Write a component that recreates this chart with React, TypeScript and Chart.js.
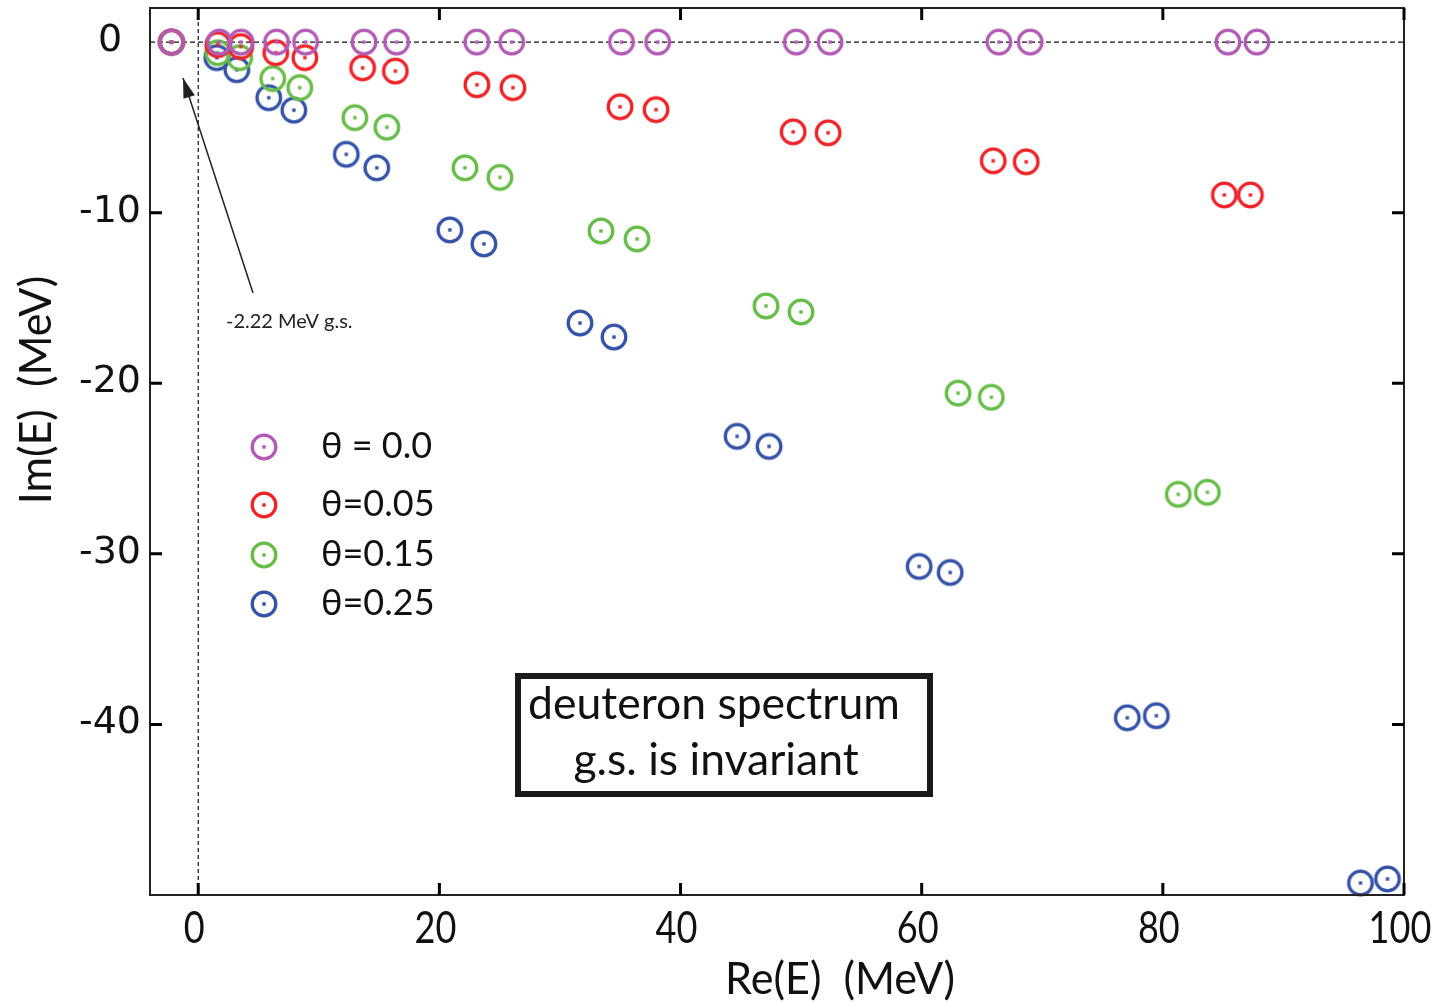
import { useEffect, useRef } from "react";
import { Chart, registerables } from "chart.js";

Chart.register(...registerables);

// ---------- data ----------
const seriesLabels = ["θ = 0.0", "θ=0.05", "θ=0.15", "θ=0.25"];
const seriesColors = ["#b35ab6", "#ee2428", "#66bd47", "#3452a8"];

const re00 = [-2.22, 1.75, 3.55, 6.5, 8.9, 13.75, 16.45, 23.1, 26.0, 35.1, 38.1, 49.6, 52.4, 66.4, 69.0, 85.4, 87.8];
const im00 = [0, 0, 0, 0, 0, 0, 0, 0, 0, 0, 0, 0, 0, 0, 0, 0, 0];

const re05 = [-2.22, 1.62, 3.53, 6.43, 8.84, 13.63, 16.35, 23.11, 26.1, 34.98, 37.97, 49.34, 52.24, 65.93, 68.67, 85.1, 87.26];
const im05 = [0, -0.15, -0.26, -0.62, -0.91, -1.51, -1.7, -2.5, -2.67, -3.79, -3.96, -5.26, -5.32, -6.96, -7.02, -8.96, -8.96];

const re15 = [-2.22, 1.62, 3.44, 6.18, 8.42, 12.99, 15.64, 22.12, 25.02, 33.4, 36.39, 47.09, 49.99, 63.02, 65.77, 81.28, 83.69];
const im15 = [0, -0.62, -0.91, -2.14, -2.67, -4.43, -4.99, -7.37, -7.93, -11.07, -11.54, -15.47, -15.82, -20.58, -20.82, -26.51, -26.39];

const re25 = [-2.22, 1.54, 3.2, 5.85, 7.93, 12.28, 14.81, 20.87, 23.69, 31.66, 34.48, 44.69, 47.34, 59.79, 62.36, 77.05, 79.46, 96.39, 98.63];
const im25 = [0, -0.91, -1.62, -3.26, -3.99, -6.58, -7.37, -11.01, -11.83, -16.47, -17.29, -23.11, -23.7, -30.74, -31.09, -39.61, -39.49, -49.3, -49.06];

const xTickValues = [0, 20, 40, 60, 80, 100];
const yTickValues = [0, -10, -20, -30, -40];
const xMin = -4;
const xMax = 100;
const yMin = -50;
const yMax = 2;

const xTitle = "Re(E)  (MeV)";
const yTitle = "Im(E)  (MeV)";
const boxLines = ["deuteron spectrum", "g.s. is invariant"];
const arrowLabel = "-2.22 MeV g.s.";

// ---------- helpers ----------
function makeMarker(color: string): HTMLCanvasElement {
  const c = document.createElement("canvas");
  c.width = 32;
  c.height = 32;
  const g = c.getContext("2d")!;
  g.strokeStyle = color;
  g.lineWidth = 3.3;
  g.beginPath();
  g.arc(16, 16, 11.8, 0, Math.PI * 2);
  g.stroke();
  g.fillStyle = color;
  g.fillRect(14.3, 14.3, 3.4, 3.4);
  return c;
}

function condensedText(ctx: CanvasRenderingContext2D, text: string, x: number, y: number, sx: number) {
  ctx.save();
  ctx.translate(x, y);
  ctx.scale(sx, 1);
  ctx.fillText(text, 0, 0);
  ctx.restore();
}

const decor = {
  id: "decor",
  beforeDatasetsDraw(chart: any) {
    const { ctx, chartArea: a, scales } = chart;
    const xs = scales.x;
    const ys = scales.y;
    ctx.save();
    ctx.strokeStyle = "#111";
    ctx.lineWidth = 1.2;
    ctx.setLineDash([5, 3]);
    const y0 = ys.getPixelForValue(0);
    ctx.beginPath();
    ctx.moveTo(a.left, y0);
    ctx.lineTo(a.right, y0);
    ctx.stroke();
    ctx.setLineDash([4, 3]);
    const x0 = xs.getPixelForValue(0);
    ctx.beginPath();
    ctx.moveTo(x0, a.top);
    ctx.lineTo(x0, a.bottom);
    ctx.stroke();
    ctx.restore();
  },
  afterDraw(chart: any) {
    const { ctx, chartArea: a, scales } = chart;
    const xs = scales.x;
    const ys = scales.y;
    ctx.save();

    // frame
    ctx.strokeStyle = "#222";
    ctx.lineWidth = 2;
    ctx.strokeRect(a.left, a.top, a.right - a.left, a.bottom - a.top);

    // inward ticks
    ctx.lineWidth = 3;
    ctx.strokeStyle = "#000";
    const tl = 12;
    xs.ticks.forEach((t: any) => {
      const px = xs.getPixelForValue(t.value);
      ctx.beginPath();
      ctx.moveTo(px, a.bottom);
      ctx.lineTo(px, a.bottom - tl);
      ctx.moveTo(px, a.top);
      ctx.lineTo(px, a.top + tl);
      ctx.stroke();
    });
    ys.ticks.forEach((t: any) => {
      if (t.value === 0) return;
      const py = ys.getPixelForValue(t.value);
      ctx.beginPath();
      ctx.moveTo(a.left, py);
      ctx.lineTo(a.left + tl, py);
      ctx.moveTo(a.right, py);
      ctx.lineTo(a.right - tl, py);
      ctx.stroke();
    });

    // tick labels
    ctx.fillStyle = "#111";
    ctx.textAlign = "center";
    ctx.textBaseline = "middle";
    ctx.font = "44px Lato";
    xs.ticks.forEach((t: any) => {
      const px = xs.getPixelForValue(t.value);
      condensedText(ctx, String(t.value), px - 4, a.bottom + 34, 0.82);
    });
    ctx.font = "38px 'DejaVu Sans'";
    ys.ticks.forEach((t: any) => {
      const py = ys.getPixelForValue(t.value);
      ctx.fillText(String(t.value), 110, py - 1);
    });

    // axis titles
    ctx.font = "44px Lato";
    condensedText(ctx, xTitle, 840, 980, 0.98);
    ctx.save();
    ctx.translate(37, 390);
    ctx.rotate(-Math.PI / 2);
    condensedText(ctx, yTitle, 0, 0, 0.98);
    ctx.restore();

    // legend
    const legendY = [447, 505, 555, 604];
    ctx.textAlign = "left";
    ctx.font = "36px Lato";
    chart.data.datasets.forEach((ds: any, i: number) => {
      const img = ds.pointStyle as HTMLCanvasElement;
      ctx.drawImage(img, 264 - img.width / 2, legendY[i] - img.height / 2);
      ctx.fillText(ds.label, 321, legendY[i] - 1);
    });

    // annotation box
    ctx.lineWidth = 6;
    ctx.strokeStyle = "#1a1a1a";
    ctx.strokeRect(518, 676, 412, 118);
    ctx.textAlign = "center";
    ctx.font = "44.5px Lato";
    ctx.fillText(boxLines[0], 714, 705);
    ctx.fillText(boxLines[1], 716, 761);

    // arrow to ground state
    const tipX = 183;
    const tipY = 78;
    const tailX = 253;
    const tailY = 293;
    ctx.strokeStyle = "#222";
    ctx.lineWidth = 1.5;
    ctx.beginPath();
    ctx.moveTo(tailX, tailY);
    ctx.lineTo(tipX, tipY);
    ctx.stroke();
    const ang = Math.atan2(tipY - tailY, tipX - tailX);
    const hl = 20;
    const hw = 6;
    ctx.fillStyle = "#222";
    ctx.beginPath();
    ctx.moveTo(tipX, tipY);
    ctx.lineTo(tipX - hl * Math.cos(ang) + hw * Math.sin(ang), tipY - hl * Math.sin(ang) - hw * Math.cos(ang));
    ctx.lineTo(tipX - hl * Math.cos(ang) - hw * Math.sin(ang), tipY - hl * Math.sin(ang) + hw * Math.cos(ang));
    ctx.closePath();
    ctx.fill();
    ctx.textAlign = "left";
    ctx.font = "20px Lato";
    ctx.fillStyle = "#222";
    ctx.fillText(arrowLabel, 226, 322);

    ctx.restore();
  },
};

export default function App() {
  const ref = useRef<HTMLCanvasElement>(null);
  useEffect(() => {
    document.body.style.margin = "0";
    const canvas = ref.current!;
    const markers = seriesColors.map(makeMarker);
    const seriesRe = [re00, re05, re15, re25];
    const seriesIm = [im00, im05, im15, im25];
    const datasets = seriesLabels.map((label, i) => ({
      label,
      data: seriesRe[i].map((x, j) => ({ x, y: seriesIm[i][j] })),
      pointStyle: markers[i],
      pointRadius: 13,
      borderColor: seriesColors[i],
      backgroundColor: seriesColors[i],
      showLine: false,
      clip: false as any,
    }));
    const chart = new Chart(canvas, {
      type: "scatter",
      data: { datasets },
      options: {
        animation: false,
        responsive: false,
        layout: { autoPadding: false, padding: { top: 8, right: 35, left: 0, bottom: 0 } },
        plugins: { legend: { display: false }, tooltip: { enabled: false } },
        scales: {
          x: {
            type: "linear",
            min: xMin,
            max: xMax,
            grid: { display: false },
            border: { display: false },
            ticks: { display: false },
            afterBuildTicks: (s: any) => {
              s.ticks = xTickValues.map((value) => ({ value }));
            },
            afterFit: (s: any) => {
              s.height = 107;
              s.paddingLeft = 0;
              s.paddingRight = 0;
            },
          },
          y: {
            type: "linear",
            min: yMin,
            max: yMax,
            grid: { display: false },
            border: { display: false },
            ticks: { display: false },
            afterBuildTicks: (s: any) => {
              s.ticks = yTickValues.map((value) => ({ value }));
            },
            afterFit: (s: any) => {
              s.width = 150;
              s.paddingTop = 0;
              s.paddingBottom = 0;
            },
          },
        },
      },
      plugins: [decor],
    });
    return () => chart.destroy();
  }, []);
  return <canvas ref={ref} width={1439} height={1002} style={{ display: "block" }} />;
}
